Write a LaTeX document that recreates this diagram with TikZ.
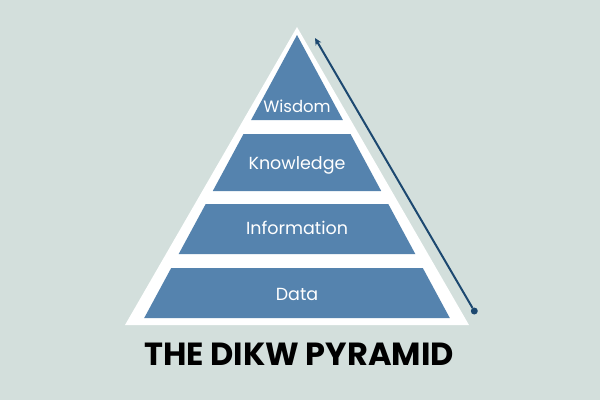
\documentclass[tikz,border=0pt]{standalone}
\usepackage{fontspec}
\setmainfont{Poppins}
\usepackage{xcolor}
\usetikzlibrary{arrows.meta}

\definecolor{bgcol}{RGB}{211,223,220}
\definecolor{layer}{RGB}{85,131,174}
\definecolor{arrowcol}{RGB}{28,72,112}

\begin{document}
\begin{tikzpicture}[x=1pt, y=-1pt,
        every node/.style={text=white, inner sep=0pt, font=\fontsize{17.5}{20}\selectfont}]
        \fill[bgcol] (0,0) rectangle (600,400);
        \useasboundingbox (0,0) rectangle (600,400);

        \fill[white] (297,27) -- (125,325) -- (469,325) -- cycle;

        \fill[layer] (297,35) -- (342.9,120) -- (251.1,120) -- cycle;
        \fill[layer] (243.5,134) -- (350.5,134) -- (381.2,191) -- (212.8,191) -- cycle;
        \fill[layer] (205.7,204) -- (388.3,204) -- (415.3,254) -- (178.7,254) -- cycle;
        \fill[layer] (171.2,268) -- (422.8,268) -- (449.8,318) -- (144.2,318) -- cycle;

        \node[font=\fontsize{16.5}{19}\selectfont] (W) at (297,106) {Wisdom};
        \node (K) at (297,165) {Knowledge};
        \node (I) at (297,228) {Information};
        \node (D) at (297,294) {Data};

        \node[circle, fill=arrowcol, minimum size=7pt] (dot) at (474.3,311) {};
        \coordinate (tip) at (315,38);
        \draw[arrowcol, line width=2pt, -{Stealth[length=7pt, width=6.5pt]}] (dot) -- (tip);

        \node[text=black, font=\fontsize{32}{36}\selectfont\bfseries] (title) at (299,354) {THE DIKW PYRAMID};
    \end{tikzpicture}
\end{document}
